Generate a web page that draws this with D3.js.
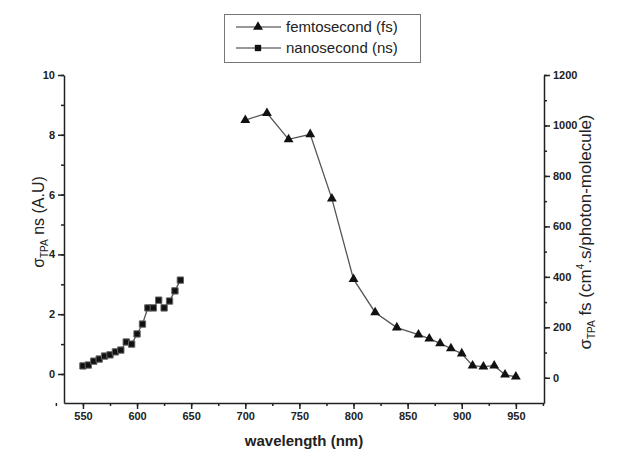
<!DOCTYPE html>
<html>
<head>
<meta charset="utf-8">
<script src="https://cdn.jsdelivr.net/npm/d3@7"></script>
<style>
  body { margin: 0; background: #fff; }
  text { font-family: Arial, "Liberation Sans", sans-serif; }
  .tick text { font-weight: bold; font-size: 11px; }
</style>
</head>
<body>
<script>
// femtosecond data (right axis, GM)
const fsWave = [700, 720, 740, 760, 780, 800, 820, 840, 860, 870, 880, 890, 900, 910, 920, 930, 940, 950];
const fsValue = [1021, 1049, 945, 965, 710, 391, 259, 199, 171, 155, 136, 116, 96, 48, 44, 48, 12, 4];

// nanosecond data (left axis, A.U)
const nsWave = [550, 555, 560, 565, 570, 575, 580, 585, 590, 595, 600, 605, 610, 615, 620, 625, 630, 635, 640];
const nsValue = [0.27, 0.30, 0.43, 0.50, 0.60, 0.64, 0.74, 0.80, 1.07, 1.00, 1.34, 1.67, 2.21, 2.21, 2.47, 2.21, 2.44, 2.78, 3.14];

const xTicks = [550, 600, 650, 700, 750, 800, 850, 900, 950];
const leftTicks = [0, 2, 4, 6, 8, 10];
const rightTicks = [0, 200, 400, 600, 800, 1000, 1200];

const width = 617,
    height = 457;
const margin = {top: 75, right: 73, bottom: 54, left: 64};

const svg = d3.select('body')
    .append('svg')
    .attr('width', width)
    .attr('height', height);

const x = d3.scaleLinear()
    .domain([532.5, 976])
    .range([margin.left, width - margin.right]);

const yL = d3.scaleLinear()
    .domain([-0.97, 10])
    .range([height - margin.bottom, margin.top]);

const yR = d3.scaleLinear()
    .domain([-100, 1200])
    .range([height - margin.bottom, margin.top]);

const axisColor = '#222';
const fmt = d3.format('d');

// minor ticks first
svg.append('g')
    .attr('transform', 'translate(0,' + (height - margin.bottom) + ')')
    .call(d3.axisBottom(x).tickValues(d3.range(525, 976, 25)).tickSize(3).tickFormat(''))
    .call(g => g.select('.domain').remove());

svg.append('g')
    .attr('transform', 'translate(' + margin.left + ',0)')
    .call(d3.axisLeft(yL).tickValues(d3.range(0, 10.1, 1)).tickSize(3).tickFormat(''))
    .call(g => g.select('.domain').remove());

svg.append('g')
    .attr('transform', 'translate(' + (width - margin.right) + ',0)')
    .call(d3.axisRight(yR).tickValues(d3.range(0, 1201, 100)).tickSize(3).tickFormat(''))
    .call(g => g.select('.domain').remove());

// major axes
svg.append('g')
    .attr('transform', 'translate(0,' + (height - margin.bottom) + ')')
    .call(d3.axisBottom(x).tickValues(xTicks).tickFormat(fmt).tickSize(6).tickSizeOuter(0).tickPadding(3));

svg.append('g')
    .attr('transform', 'translate(' + margin.left + ',0)')
    .call(d3.axisLeft(yL).tickValues(leftTicks).tickFormat(fmt).tickSize(6).tickSizeOuter(0).tickPadding(3));

svg.append('g')
    .attr('transform', 'translate(' + (width - margin.right) + ',0)')
    .call(d3.axisRight(yR).tickValues(rightTicks).tickFormat(fmt).tickSize(6).tickSizeOuter(0).tickPadding(3));

svg.selectAll('.domain, .tick line')
    .attr('stroke', axisColor)
    .attr('stroke-width', 1.5);
svg.selectAll('.tick text').attr('fill', '#222');

// axis titles
svg.append('text')
    .attr('x', (margin.left + width - margin.right) / 2)
    .attr('y', 446)
    .attr('text-anchor', 'middle')
    .style('font-weight', 'bold')
    .style('font-size', '15px')
    .attr('fill', '#222')
    .text('wavelength (nm)');

const lTitle = svg.append('text')
    .attr('transform', 'translate(44,' + 222 + ') rotate(-90)')
    .attr('text-anchor', 'middle')
    .style('font-size', '16px')
    .attr('fill', '#222');
lTitle.append('tspan').text('σ');
lTitle.append('tspan').attr('dy', 4).style('font-size', '10px').text('TPA');
lTitle.append('tspan').attr('dy', -4).text(' ns (A.U)');

const rTitle = svg.append('text')
    .attr('transform', 'translate(591,' + 232 + ') rotate(-90)')
    .attr('text-anchor', 'middle')
    .style('font-size', '17px')
    .attr('fill', '#222');
rTitle.append('tspan').text('σ');
rTitle.append('tspan').attr('dy', 4).style('font-size', '10px').text('TPA');
rTitle.append('tspan').attr('dy', -4).text(' fs (cm');
rTitle.append('tspan').attr('dy', -7).style('font-size', '10px').text('4');
rTitle.append('tspan').attr('dy', 7).text('.s/photon-molecule)');

// series
const fsData = fsWave.map((w, i) => ({x: w, y: fsValue[i]}));
const nsData = nsWave.map((w, i) => ({x: w, y: nsValue[i]}));

svg.append('path')
    .datum(fsData)
    .attr('fill', 'none')
    .attr('stroke', '#555')
    .attr('stroke-width', 1.3)
    .attr('d', d3.line().x(d => x(d.x)).y(d => yR(d.y)));

svg.append('path')
    .datum(nsData)
    .attr('fill', 'none')
    .attr('stroke', '#555')
    .attr('stroke-width', 1.3)
    .attr('d', d3.line().x(d => x(d.x)).y(d => yL(d.y)));

const tri = d3.symbol().type(d3.symbolTriangle).size(42);
const sq = d3.symbol().type(d3.symbolSquare).size(40);

svg.selectAll('.fs')
    .data(fsData)
    .enter()
    .append('path')
    .attr('class', 'fs')
    .attr('transform', d => 'translate(' + x(d.x) + ',' + yR(d.y) + ')')
    .attr('d', tri)
    .attr('fill', '#111');

svg.selectAll('.ns')
    .data(nsData)
    .enter()
    .append('path')
    .attr('class', 'ns')
    .attr('transform', d => 'translate(' + x(d.x) + ',' + yL(d.y) + ')')
    .attr('d', sq)
    .attr('fill', '#111')
    .attr('stroke', '#666')
    .attr('stroke-width', 1);

// legend
const legend = svg.append('g');
legend.append('rect')
    .attr('x', 224.5)
    .attr('y', 14.5)
    .attr('width', 196)
    .attr('height', 48)
    .attr('fill', 'none')
    .attr('stroke', '#777')
    .attr('stroke-width', 1);

const items = [
    {label: 'femtosecond (fs)', sym: tri, y: 27},
    {label: 'nanosecond (ns)', sym: sq, y: 48}
];
items.forEach(it => {
    legend.append('line')
        .attr('x1', 236).attr('x2', 281)
        .attr('y1', it.y).attr('y2', it.y)
        .attr('stroke', '#333').attr('stroke-width', 1.2);
    legend.append('path')
        .attr('transform', 'translate(258,' + it.y + ')')
        .attr('d', it.sym)
        .attr('fill', '#111');
    legend.append('text')
        .attr('x', 286)
        .attr('y', it.y + 5)
        .style('font-size', '15px')
        .attr('fill', '#222')
        .text(it.label);
});
</script>
</body>
</html>
